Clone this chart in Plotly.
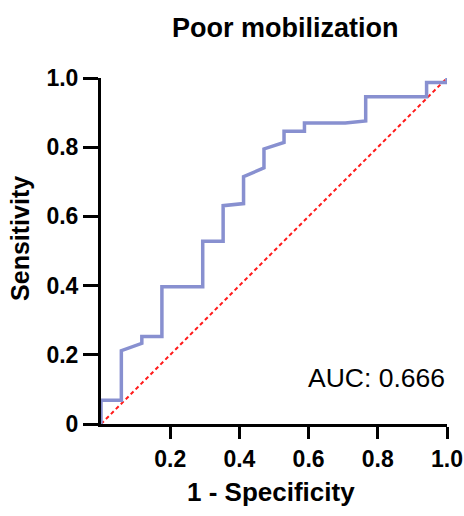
import plotly.graph_objects as go

# ROC curve points
fpr = [0, 0, 0.0588, 0.0588, 0.118, 0.118, 0.176, 0.176, 0.294, 0.294, 0.353, 0.353,
       0.412, 0.412, 0.471, 0.471, 0.529, 0.529, 0.588, 0.588, 0.706, 0.765, 0.765,
       0.941, 0.941, 1.0, 1.0]
sens = [0, 0.069, 0.069, 0.212, 0.233, 0.253, 0.253, 0.397, 0.397, 0.528, 0.528, 0.631,
        0.637, 0.715, 0.74, 0.795, 0.814, 0.846, 0.846, 0.87, 0.87, 0.876, 0.946,
        0.946, 0.987, 0.987, 1.0]
ref_x = [0, 1]
ref_y = [0, 1]
x_ticks = [0.2, 0.4, 0.6, 0.8, 1.0]
x_tick_text = ["0.2", "0.4", "0.6", "0.8", "1.0"]
y_ticks = [0, 0.2, 0.4, 0.6, 0.8, 1.0]
y_tick_text = ["0", "0.2", "0.4", "0.6", "0.8", "1.0"]

FONT = "Arial, Liberation Sans, sans-serif"

fig = go.Figure()
fig.add_trace(go.Scatter(x=ref_x, y=ref_y, mode="lines",
                         line=dict(color="#ff1a1a", width=2, dash="4px,3px"),
                         hoverinfo="skip", showlegend=False))
fig.add_trace(go.Scatter(x=fpr, y=sens, mode="lines",
                         line=dict(color="#8890d0", width=3.5),
                         showlegend=False))

axis_common = dict(range=[0, 1], showgrid=False, zeroline=False, showline=True,
                   linecolor="black", linewidth=3, ticks="outside", tickwidth=3,
                   tickcolor="black", automargin=False,
                   tickfont=dict(family=FONT, size=23, color="black", weight="bold"))
fig.update_xaxes(tickvals=x_ticks, ticktext=x_tick_text, ticklen=12, **axis_common)
fig.update_yaxes(tickvals=y_ticks, ticktext=y_tick_text, ticklen=15, **axis_common)

fig.add_annotation(text="<b>Poor mobilization</b>", xref="paper", yref="paper",
                   x=0.533, y=1.145, xanchor="center", yanchor="middle", showarrow=False,
                   font=dict(family=FONT, size=27, color="black"))
fig.add_annotation(text="<b>1 - Specificity</b>", xref="paper", yref="paper",
                   x=0.49, y=-0.196, xanchor="center", yanchor="middle", showarrow=False,
                   font=dict(family=FONT, size=26, color="black"))
fig.add_annotation(text="<b>Sensitivity</b>", xref="paper", yref="paper",
                   x=-0.234, y=0.535, xanchor="center", yanchor="middle", showarrow=False,
                   textangle=-90, font=dict(family=FONT, size=25, color="black"))
fig.add_annotation(text="AUC: 0.666", xref="paper", yref="paper",
                   x=1.0, y=0.133, xanchor="right", yanchor="middle", showarrow=False,
                   font=dict(family=FONT, size=26.5, color="black"))

fig.update_layout(width=464, height=516, paper_bgcolor="white", plot_bgcolor="white",
                  margin=dict(l=101, r=17, t=78, b=92))

fig.write_html("out.html", config={"displayModeBar": False},
               post_script="document.body.style.margin='0';document.body.style.padding='0';")
